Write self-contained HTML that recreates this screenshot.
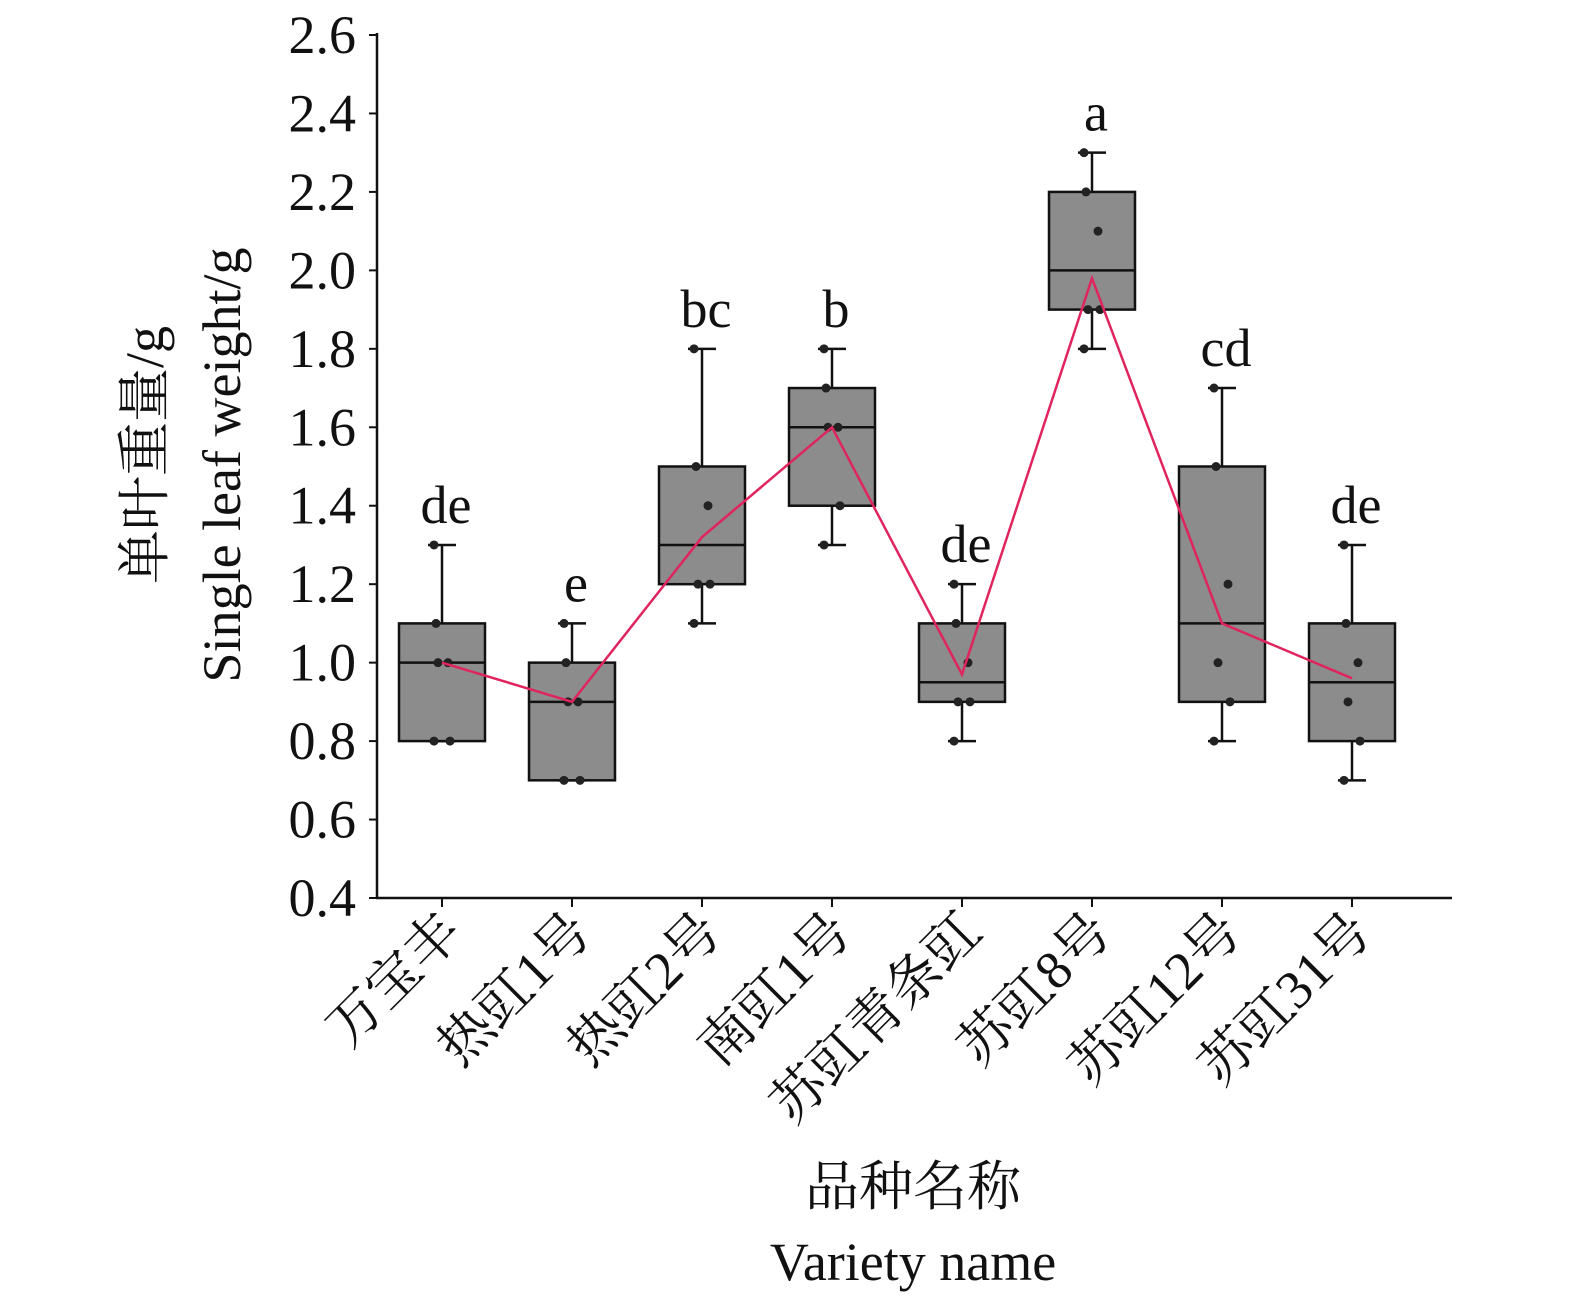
<!DOCTYPE html>
<html><head><meta charset="utf-8">
<style>
html,body{margin:0;padding:0;background:#fff;}
svg{display:block;}
text{font-family:"Liberation Serif","Noto Serif CJK SC",serif;fill:#111;}
</style></head>
<body>
<svg id="chart" width="1575" height="1305" viewBox="0 0 1575 1305" xmlns="http://www.w3.org/2000/svg">
<g id="axes"></g>
<g id="plot"></g>
<text transform="translate(163,455) rotate(-90)" text-anchor="middle" font-size="54">单叶重量/g</text>
<text transform="translate(240,465) rotate(-90)" text-anchor="middle" font-size="54">Single leaf weight/g</text>
<text x="913" y="1205" text-anchor="middle" font-size="54">品种名称</text>
<text x="913" y="1280" text-anchor="middle" font-size="54">Variety name</text>
</svg>
<script>
const categories=["万宝丰","热豇1号","热豇2号","南豇1号","苏豇青条豇","苏豇8号","苏豇12号","苏豇31号"];
const q1=[0.8,0.7,1.2,1.4,0.9,1.9,0.9,0.8];
const q3=[1.1,1.0,1.5,1.7,1.1,2.2,1.5,1.1];
const medians=[1.0,0.9,1.3,1.6,0.95,2.0,1.1,0.95];
const whiskLo=[0.8,0.7,1.1,1.3,0.8,1.8,0.8,0.7];
const whiskHi=[1.3,1.1,1.8,1.8,1.2,2.3,1.7,1.3];
const linePts=[1.0,0.9,1.32,1.6,0.97,1.98,1.1,0.96];
const points=[[1.3,1.1,1.0,1.0,0.8,0.8],[1.1,1.0,0.9,0.9,0.7,0.7],[1.8,1.5,1.4,1.2,1.2,1.1],[1.8,1.7,1.6,1.6,1.4,1.3],[1.2,1.1,1.0,0.9,0.9,0.8],[2.3,2.2,2.1,1.9,1.9,1.8],[1.7,1.5,1.2,1.0,0.9,0.8],[1.3,1.1,1.0,0.9,0.8,0.7]];
const sigLetters=["de","e","bc","b","de","a","cd","de"];
const yTicks=["0.4","0.6","0.8","1.0","1.2","1.4","1.6","1.8","2.0","2.2","2.4","2.6"];

const NS="http://www.w3.org/2000/svg";
const y=v=>898-(v-0.4)/2.2*863;
const x=i=>442+i*130;
function mk(tag,attrs,parent){const e=document.createElementNS(NS,tag);for(const k in attrs)e.setAttribute(k,attrs[k]);parent.appendChild(e);return e;}
const axes=document.getElementById('axes'),plot=document.getElementById('plot');

let a=mk('line',{x1:377,y1:33,x2:377,y2:899,stroke:'#111','stroke-width':2.5},axes);


a=mk('line',{x1:376,y1:898,x2:1452,y2:898,stroke:'#111','stroke-width':2.5},axes);


yTicks.forEach(t=>{const v=parseFloat(t);
 const l=mk('line',{x1:369,y1:y(v),x2:377,y2:y(v),stroke:'#111','stroke-width':2},axes);
 
 
 const tx=mk('text',{x:356,y:y(v)+18,'text-anchor':'end','font-size':54},axes);tx.textContent=t;
 
 
});
categories.forEach((c,i)=>{
 const l=mk('line',{x1:x(i),y1:898,x2:x(i),y2:907,stroke:'#111','stroke-width':2},axes);
 
 
 const tx=mk('text',{transform:`translate(${x(i)+22},${935}) rotate(-45)`,'text-anchor':'end','font-size':54},axes);tx.textContent=c;
 
 
});
categories.forEach((c,i)=>{
 const g=mk('g',{},plot);
 
 
 const cx=x(i),hw=43;
 mk('line',{x1:cx,y1:y(whiskHi[i]),x2:cx,y2:y(q3[i]),stroke:'#111','stroke-width':2.5},g);
 mk('line',{x1:cx,y1:y(q1[i]),x2:cx,y2:y(whiskLo[i]),stroke:'#111','stroke-width':2.5},g);
 mk('line',{x1:cx-14,y1:y(whiskHi[i]),x2:cx+14,y2:y(whiskHi[i]),stroke:'#111','stroke-width':2.5},g);
 mk('line',{x1:cx-14,y1:y(whiskLo[i]),x2:cx+14,y2:y(whiskLo[i]),stroke:'#111','stroke-width':2.5},g);
 mk('rect',{x:cx-hw,y:y(q3[i]),width:2*hw,height:y(q1[i])-y(q3[i]),fill:'#8c8c8c',stroke:'#111','stroke-width':2.5},g);
 mk('line',{x1:cx-hw,y1:y(medians[i]),x2:cx+hw,y2:y(medians[i]),stroke:'#111','stroke-width':2.5},g);
 const offs=[-8,-6,6,-4,8,-8];
 points[i].forEach((p,j)=>{
  const d=mk('circle',{cx:cx+offs[j%offs.length],cy:y(p),r:4.5,fill:'#222'},g);
  
  
 });
 const lt=mk('text',{x:cx+4,y:y(whiskHi[i])-22,'text-anchor':'middle','font-size':54},plot);lt.textContent=sigLetters[i];
 
 
});
const pl=mk('polyline',{points:linePts.map((v,i)=>x(i)+','+y(v)).join(' '),fill:'none',stroke:'#e0245e','stroke-width':2.5},plot);


</script>
</body></html>
